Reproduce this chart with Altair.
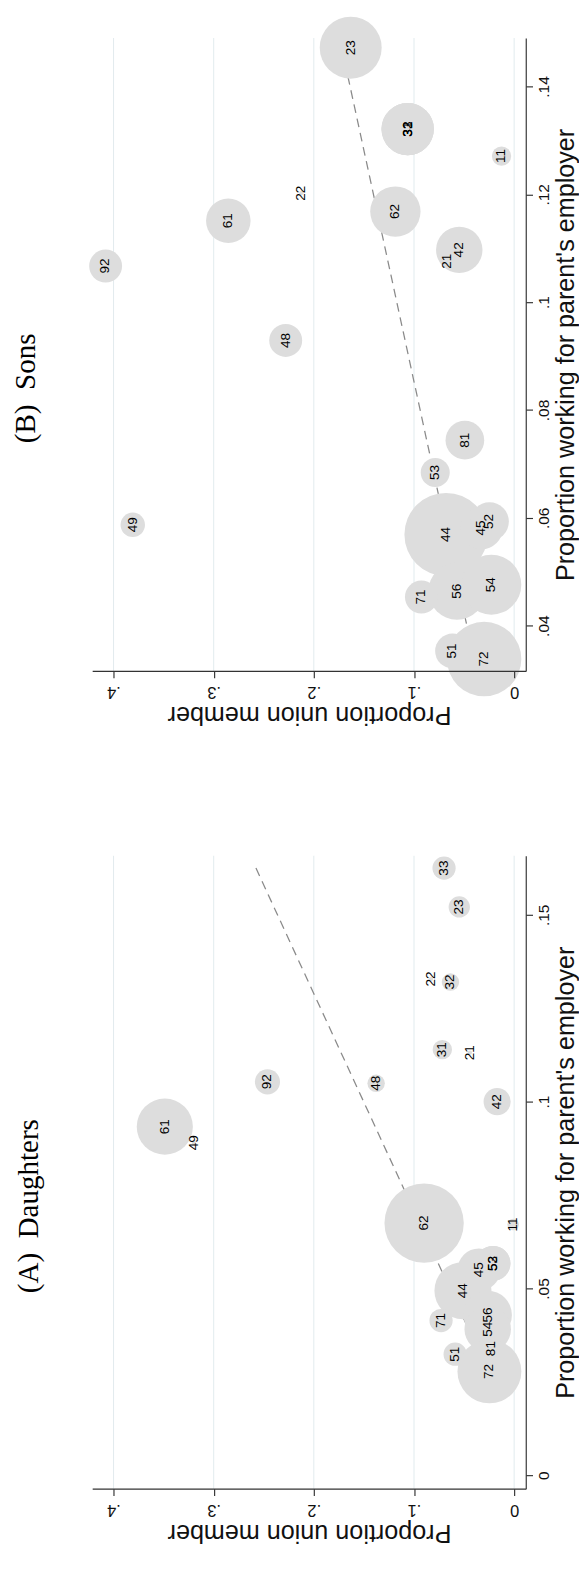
import altair as alt
import pandas as pd

# ---------------- data ----------------
union_ticks = [0, 0.1, 0.2, 0.3, 0.4]
union_domain = [-0.0116, 0.4213]

# (B) Sons
sons_label = ["23", "31", "32", "33", "11", "22", "61", "62", "92", "42", "21", "48",
              "49", "81", "53", "44", "45", "52", "56", "54", "71", "51", "72"]
sons_union = [0.1632, 0.1063, 0.1063, 0.1063, 0.0126, 0.2126, 0.2854, 0.1186, 0.4079, 0.0548, 0.0667, 0.2281,
              0.3808, 0.0492, 0.0788, 0.0680, 0.0326, 0.0246, 0.0571, 0.0228, 0.0926, 0.0615, 0.0300]
sons_work = [0.1472, 0.1321, 0.1321, 0.1321, 0.1271, 0.1202, 0.1151, 0.1168, 0.1067, 0.1097, 0.1076, 0.0929,
             0.0587, 0.0744, 0.0684, 0.0569, 0.0581, 0.0593, 0.0464, 0.0476, 0.0453, 0.0353, 0.0338]
sons_weight = [10.24, 7.29, 7.29, 7.29, 1.0, 0.05, 5.29, 6.76, 2.89, 5.76, 0.05, 2.89,
               1.6, 4.0, 2.25, 18.5, 4.84, 4.0, 8.7, 9.6, 2.89, 3.24, 14.8]
sons_fit_work = [0.0338, 0.1472]
sons_fit_union = [0.0400, 0.1722]
sons_work_ticks = [0.04, 0.06, 0.08, 0.10, 0.12, 0.14]
sons_work_domain = [0.0316, 0.149]

# (A) Daughters
dau_label = ["33", "23", "22", "32", "31", "21", "92", "48", "42", "61", "49", "62",
             "11", "45", "52", "53", "44", "71", "56", "54", "51", "81", "72"]
dau_union = [0.0700, 0.0548, 0.0830, 0.0636, 0.0717, 0.0442, 0.2463, 0.1378, 0.0170, 0.3488, 0.3198, 0.0899,
             0.0010, 0.0352, 0.0211, 0.0211, 0.0511, 0.0730, 0.0264, 0.0264, 0.0589, 0.0229, 0.0247]
dau_work = [0.1625, 0.1521, 0.1328, 0.1320, 0.1139, 0.1131, 0.1053, 0.1049, 0.1000, 0.0933, 0.0890, 0.0675,
            0.0671, 0.0550, 0.0567, 0.0567, 0.0494, 0.0414, 0.0429, 0.0391, 0.0324, 0.0339, 0.0278]
dau_weight = [1.44, 1.21, 0.05, 0.81, 1.0, 0.05, 1.69, 0.81, 1.96, 8.41, 0.05, 16.8,
              0.36, 4.84, 3.24, 3.24, 8.7, 1.44, 6.25, 5.76, 1.44, 0.3, 10.9]
dau_fit_work = [0.0278, 0.1625]
dau_fit_union = [0.0261, 0.2578]
dau_work_ticks = [0.0, 0.05, 0.10, 0.15]
dau_work_domain = [-0.0036, 0.1658]

SANS = "Liberation Sans"
SERIF = "Liberation Serif"
LABEL_EXPR = "datum.value == 0 ? '0' : replace(format(datum.value, '.2~f'), '0.', '.')"


def panel(title, labels, union, work, weight, fit_u, fit_w, ydomain, yticks):
    pts = pd.DataFrame({"label": labels, "union": union, "work": work, "weight": weight})
    fit = pd.DataFrame({"union": fit_u, "work": fit_w})
    grid = pd.DataFrame({"union": union_ticks})

    xaxis = alt.Axis(values=union_ticks, labelExpr=LABEL_EXPR, grid=False, orient="bottom",
                     labelAngle=180, labelAlign="center", labelBaseline="bottom",
                     labelPadding=5, labelFontSize=17, labelFont=SANS, labelFlush=False,
                     labelOverlap=False, tickSize=7, titleAngle=180, titleBaseline="bottom",
                     titlePadding=2, titleFontSize=26, titleFont=SANS, titleFontWeight="normal",
                     zindex=1)
    yaxis = alt.Axis(values=yticks, labelExpr=LABEL_EXPR, grid=False, orient="right",
                     labelAngle=270, labelAlign="center", labelBaseline="top",
                     labelPadding=4, labelFontSize=16, labelFont=SANS, labelFlush=False,
                     labelOverlap=False, tickSize=7, titleAngle=270, titleBaseline="top",
                     titlePadding=1, titleFontSize=26, titleFont=SANS, titleFontWeight="normal",
                     zindex=1)
    xsc = alt.Scale(domain=union_domain, reverse=True, nice=False, zero=False)
    ysc = alt.Scale(domain=ydomain, nice=False, zero=False)
    X = alt.X("union:Q", scale=xsc, axis=xaxis, title="Proportion union member")
    Y = alt.Y("work:Q", scale=ysc, axis=yaxis, title="Proportion working for parent's employer")

    g = alt.Chart(grid).mark_rule(color="#e1eaed", strokeWidth=1).encode(x=X)
    ln = alt.Chart(fit).mark_line(color="#8a8a8a", strokeDash=[9, 6], strokeWidth=1.3).encode(x=X, y=Y)
    circ = alt.Chart(pts).mark_circle(color="#dddddd", opacity=1).encode(
        x=X, y=Y,
        size=alt.Size("weight:Q", scale=alt.Scale(domain=[0, 20], range=[0, 8000]), legend=None))
    txt = alt.Chart(pts).mark_text(angle=270, fontSize=14, font=SANS, color="black",
                                   align="center", baseline="middle").encode(x=X, y=Y, text="label:N")
    return alt.layer(g, ln, circ, txt).properties(
        width=448, height=654,
        title=alt.TitleParams(text=title, orient="left", anchor="middle", angle=270,
                              baseline="bottom", offset=20, dx=-35, font=SERIF, fontSize=30,
                              fontWeight="normal", color="black", frame="group"))


pB = panel("(B)\u2002Sons", sons_label, sons_union, sons_work, sons_weight,
           sons_fit_union, sons_fit_work, sons_work_domain, sons_work_ticks)
pA = panel("(A)\u2002Daughters", dau_label, dau_union, dau_work, dau_weight,
           dau_fit_union, dau_fit_work, dau_work_domain, dau_work_ticks)

chart = alt.vconcat(pB, pA, spacing=132).properties(
    padding={"left": 3, "top": -17, "right": 0, "bottom": 0}
).configure_view(stroke=None).configure_axis(
    domainColor="#333333", domainWidth=1.2, tickColor="#333333", tickWidth=1.2,
    labelColor="#111111", titleColor="#111111")

chart.save("out.html", embed_options={"renderer": "svg", "actions": False})
